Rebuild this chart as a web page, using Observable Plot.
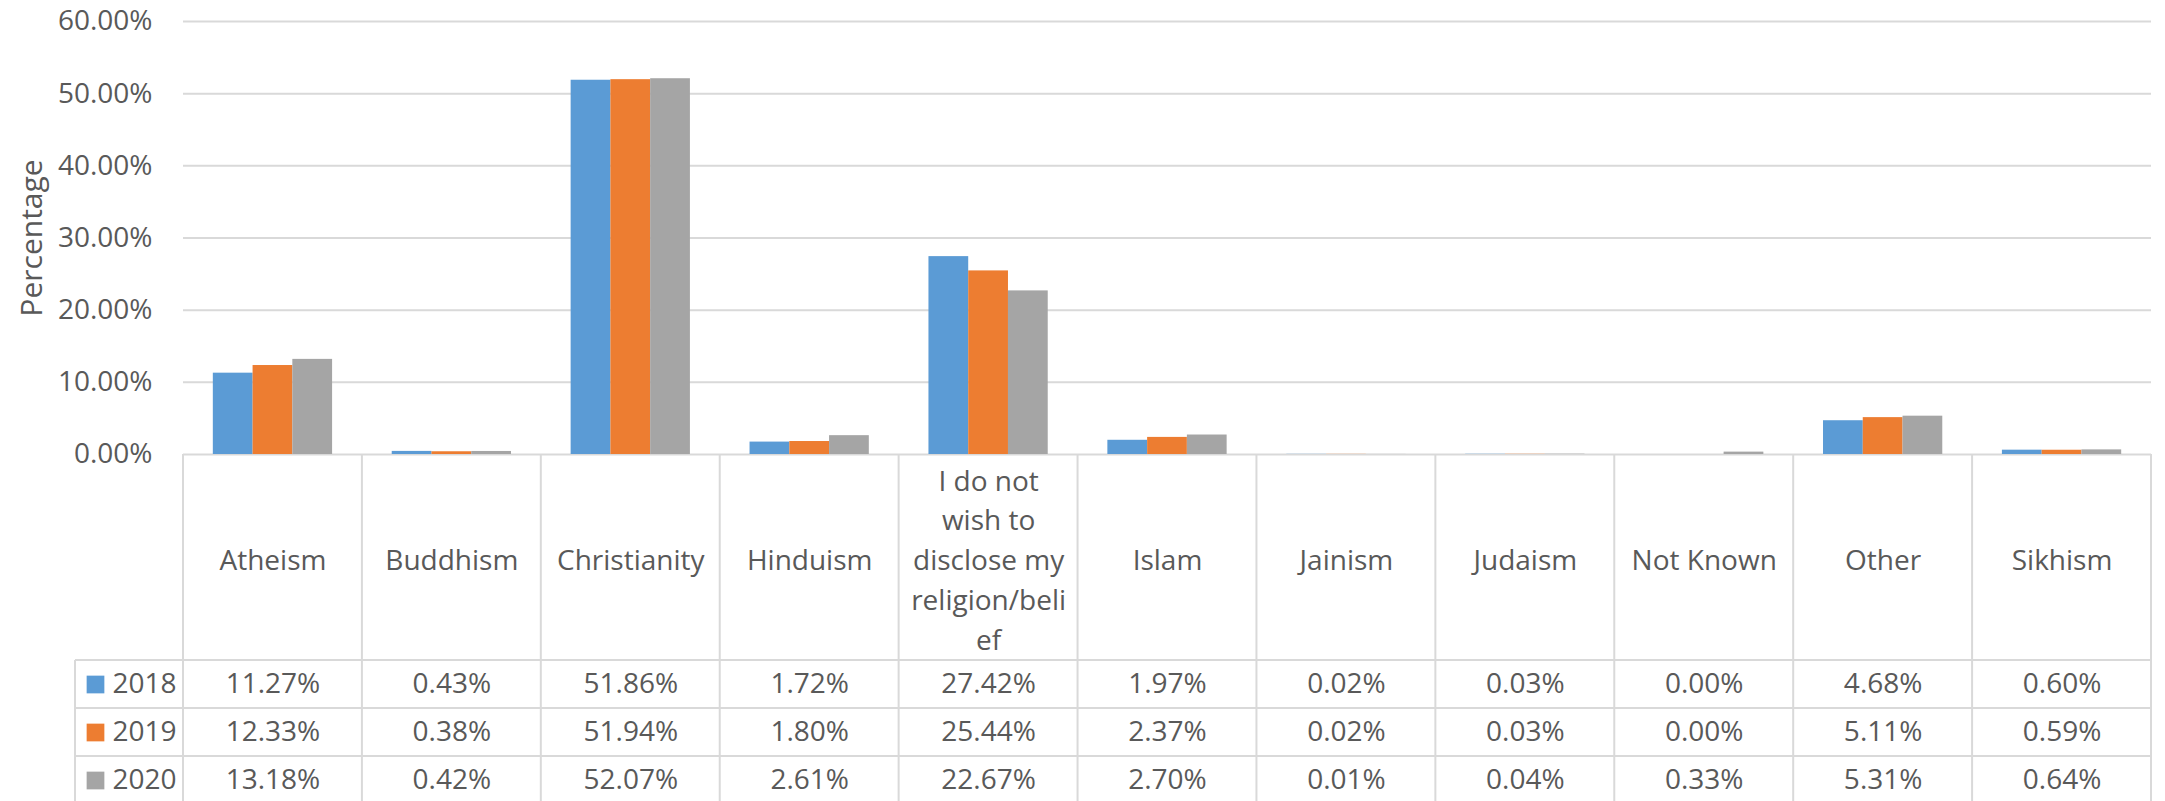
<!DOCTYPE html>
<html><head><meta charset="utf-8">
<script src="https://cdn.jsdelivr.net/npm/d3@7"></script>
<script src="https://cdn.jsdelivr.net/npm/@observablehq/plot@0.6"></script>
<style>html,body{margin:0;padding:0;background:#fff;} #chart svg{display:block}</style>
</head><body><div id="chart"></div>
<script>
// ---- data ----
const categories = ["Atheism","Buddhism","Christianity","Hinduism","I do not wish to disclose my religion/belief","Islam","Jainism","Judaism","Not Known","Other","Sikhism"];
const categoryLabels = ["Atheism","Buddhism","Christianity","Hinduism","I do not\nwish to\ndisclose my\nreligion/beli\nef","Islam","Jainism","Judaism","Not Known","Other","Sikhism"];
const years = ["2018","2019","2020"];
const values2018 = [11.27,0.43,51.86,1.72,27.42,1.97,0.02,0.03,0.00,4.68,0.60];
const values2019 = [12.33,0.38,51.94,1.80,25.44,2.37,0.02,0.03,0.00,5.11,0.59];
const values2020 = [13.18,0.42,52.07,2.61,22.67,2.70,0.01,0.04,0.33,5.31,0.64];
const yTicks = [0,0.1,0.2,0.3,0.4,0.5,0.6];
const yTitle = "Percentage";

// ---- styles / layout ----
const colors = ["#5B9BD5","#ED7D31","#A5A5A5"];
const textColor = "#595959";
const lineColor = "#D9D9D9";
const W = 2165, H = 801;
const mL = 183, mR = 14, mT = 21, mB = 347;
const frameBottom = H - mB;
const bandW = (W - mL - mR) / categories.length;
const barW = bandW / 4.5;          // gap width 150%
const gapHalf = barW * 0.75;
const rowTops = [660, 708, 756];
const rowH = 48;
const legendLeft = 75;

const seriesValues = [values2018, values2019, values2020];
const fmt = d3.format(".2f");

const marks = [
  Plot.ruleY(yTicks.slice(1), {stroke: lineColor, strokeWidth: 2}),
  Plot.ruleY([0], {stroke: lineColor, strokeWidth: 2})
];
years.forEach((yr, i) => {
  const rows = categories.map((c, j) => ({category: c, value: seriesValues[i][j] / 100, raw: seriesValues[i][j]}));
  marks.push(Plot.barY(rows, {
    x: "category", y: "value", fill: colors[i],
    insetLeft: gapHalf + i * barW,
    insetRight: bandW - gapHalf - (i + 1) * barW
  }));
  const dy = rowTops[i] + rowH / 2 - frameBottom;
  marks.push(Plot.text(rows, {
    x: "category", text: d => fmt(d.raw) + "%", frameAnchor: "bottom", dy,
    lineAnchor: "middle", fill: textColor, fontSize: 28
  }));
  marks.push(Plot.dot([yr], {
    frameAnchor: "bottom-left", dx: legendLeft + 20 - mL, dy,
    symbol: "square", r: 10, fill: colors[i], stroke: null
  }));
  marks.push(Plot.text([yr], {
    frameAnchor: "bottom-left", dx: legendLeft + 37 - mL, dy, text: d => d,
    textAnchor: "start", lineAnchor: "middle", fill: textColor, fontSize: 28
  }));
});
marks.push(Plot.text(categories.map((c, j) => ({category: c, label: categoryLabels[j]})), {
  x: "category", text: "label", frameAnchor: "bottom",
  dy: (rowTops[0] - frameBottom) / 2, lineAnchor: "middle", lineHeight: 1.42,
  fill: textColor, fontSize: 28
}));
marks.push(Plot.text([yTitle], {
  frameAnchor: "left", rotate: -90, dx: -151, text: d => d,
  textAnchor: "middle", lineAnchor: "middle",
  fill: textColor, fontSize: 30
}));

const chart = Plot.plot({
  width: W, height: H,
  marginLeft: mL, marginRight: mR, marginTop: mT, marginBottom: mB,
  style: {fontFamily: "'Open Sans', sans-serif", fontSize: "28px", color: textColor, background: "#fff"},
  x: {type: "band", domain: categories, padding: 0, round: false, axis: null},
  y: {domain: [0, 0.6], ticks: yTicks, tickFormat: d3.format(".2%"), tickSize: 0, tickPadding: 31, label: null},
  marks
});
document.getElementById("chart").appendChild(chart);

// ---- table grid lines drawn from the plot's own x scale ----
const xs = chart.scale("x");
const x0 = xs.range[0];
const step = (xs.range[1] - xs.range[0]) / categories.length;
const edges = categories.map((c, j) => x0 + j * step).concat([xs.range[1]]);
const svg = d3.select(chart.tagName.toLowerCase() === "svg" ? chart : chart.querySelector("svg"));
const g = svg.append("g").attr("stroke", lineColor).attr("stroke-width", 2).attr("fill", "none");
edges.forEach(x => g.append("line").attr("x1", x).attr("x2", x).attr("y1", frameBottom).attr("y2", H));
g.append("line").attr("x1", legendLeft).attr("x2", legendLeft).attr("y1", rowTops[0]).attr("y2", H);
rowTops.forEach(y => g.append("line").attr("x1", legendLeft).attr("x2", xs.range[1]).attr("y1", y).attr("y2", y));
</script>
</body></html>
